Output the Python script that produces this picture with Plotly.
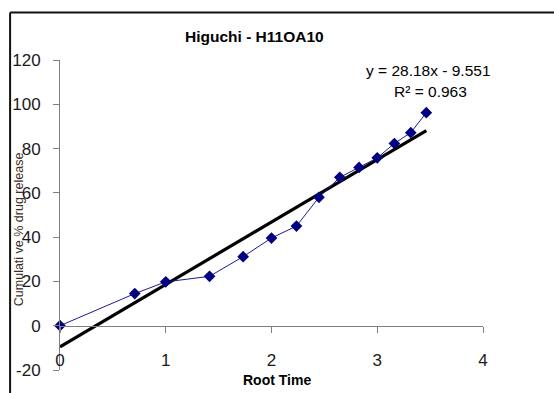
import plotly.graph_objects as go

# Data
root_time = [0, 0.707, 1.0, 1.414, 1.732, 2.0, 2.236, 2.449, 2.646, 2.828, 3.0, 3.162, 3.317, 3.464]
release = [0, 14.5, 19.8, 22.3, 31.2, 39.6, 45.0, 58.0, 67.0, 71.5, 75.8, 82.3, 87.2, 96.2]
slope = 28.18
intercept = -9.551
x_ticks = [0, 1, 2, 3, 4]
y_ticks = [-20, 0, 20, 40, 60, 80, 100, 120]

trend_x = [0, max(root_time)]
trend_y = [slope * v + intercept for v in trend_x]

FONT = "Liberation Sans, Arial, sans-serif"

fig = go.Figure()
fig.add_trace(go.Scatter(
    x=trend_x, y=trend_y, mode="lines",
    line=dict(color="#000000", width=3.2),
    showlegend=False, hoverinfo="skip", cliponaxis=False,
))
fig.add_trace(go.Scatter(
    x=root_time, y=release, mode="lines+markers",
    line=dict(color="#1a1a9a", width=1),
    marker=dict(symbol="diamond", size=9, color="#000080"),
    showlegend=False, cliponaxis=False,
))

W, H = 554, 393
L, R, T, B = 55.5, 70.5, 59.5, 23
pw = W - L - R
ph = H - T - B

def px_x(p):
    return (p - L) / pw

def px_y(p):
    return (H - B - p) / ph

fig.update_layout(
    width=W, height=H,
    margin=dict(l=L, r=R, t=T, b=B, pad=0),
    paper_bgcolor="white", plot_bgcolor="white",
    xaxis=dict(
        range=[0, 4], tickvals=x_ticks, ticktext=[str(v) for v in x_ticks],
        showgrid=False, zeroline=False,
        showline=True, linecolor="#7f7f7f", linewidth=1,
        ticks="outside", ticklen=6, tickcolor="#7f7f7f",
        anchor="free", position=20 / 140,
        tickfont=dict(family=FONT, size=17, color="#1a1a1a"),
        ticklabelstandoff=13,
    ),
    yaxis=dict(
        range=[-20, 120], tickvals=y_ticks, ticktext=[str(v) for v in y_ticks],
        showgrid=False, zeroline=False,
        showline=True, linecolor="#7f7f7f", linewidth=1,
        ticks="outside", ticklen=6, tickcolor="#7f7f7f",
        tickfont=dict(family=FONT, size=17, color="#1a1a1a"),
        ticklabelstandoff=9,
    ),
    annotations=[
        dict(text="<b>Higuchi - H11OA10</b>", xref="paper", yref="paper",
             x=px_x(252), y=px_y(36), showarrow=False, xanchor="center", yanchor="middle",
             font=dict(family=FONT, size=15.5, color="#000000")),
        dict(text="y = 28.18x - 9.551", xref="paper", yref="paper",
             x=px_x(428), y=px_y(70), showarrow=False, xanchor="center", yanchor="middle",
             font=dict(family=FONT, size=15.5, color="#000000")),
        dict(text="R² = 0.963", xref="paper", yref="paper",
             x=px_x(430), y=px_y(91), showarrow=False, xanchor="center", yanchor="middle",
             font=dict(family=FONT, size=15.5, color="#000000")),
        dict(text="<b>Root Time</b>", xref="paper", yref="paper",
             x=px_x(275), y=px_y(380), showarrow=False, xanchor="center", yanchor="middle",
             font=dict(family=FONT, size=14, color="#000000")),
        dict(text="Cumulati ve % drug release", xref="paper", yref="paper",
             x=px_x(14), y=px_y(229), showarrow=False, xanchor="center", yanchor="middle",
             textangle=-90,
             font=dict(family=FONT, size=12.5, color="#3a2e1e")),
    ],
    shapes=[
        dict(type="line", xref="paper", yref="paper",
             x0=px_x(5), x1=px_x(5), y0=px_y(12), y1=px_y(400),
             line=dict(color="#111111", width=2)),
        dict(type="line", xref="paper", yref="paper",
             x0=px_x(5), x1=px_x(560), y0=px_y(12), y1=px_y(12),
             line=dict(color="#111111", width=2)),
    ],
)

fig.write_html("out.html")
